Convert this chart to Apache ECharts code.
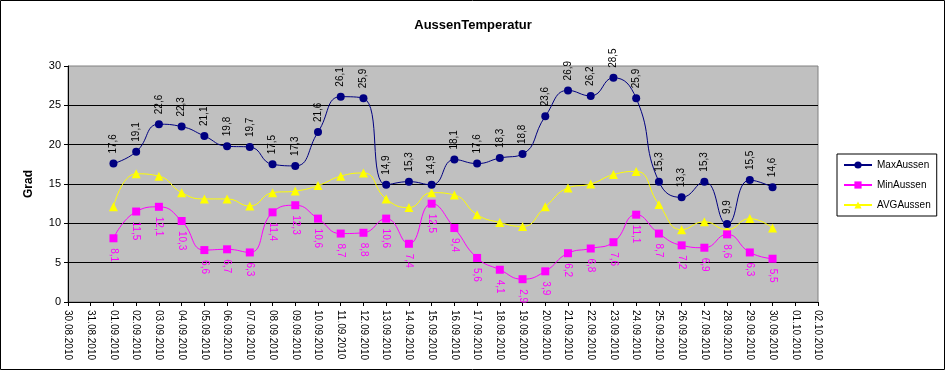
<!DOCTYPE html>
<html><head><meta charset="utf-8">
<script src="https://cdn.jsdelivr.net/npm/echarts@6/dist/echarts.min.js"></script>
<style>html,body{margin:0;padding:0;background:#fff}#c{width:946px;height:371px}</style>
</head><body><div id="c"></div>
<script>
const categories = ['30.08.2010','31.08.2010','01.09.2010','02.09.2010','03.09.2010','04.09.2010','05.09.2010','06.09.2010','07.09.2010','08.09.2010','09.09.2010','10.09.2010','11.09.2010','12.09.2010','13.09.2010','14.09.2010','15.09.2010','16.09.2010','17.09.2010','18.09.2010','19.09.2010','20.09.2010','21.09.2010','22.09.2010','23.09.2010','24.09.2010','25.09.2010','26.09.2010','27.09.2010','28.09.2010','29.09.2010','30.09.2010','01.10.2010','02.10.2010'];
const maxAussen = [null,null,17.6,19.1,22.6,22.3,21.1,19.8,19.7,17.5,17.3,21.6,26.1,25.9,14.9,15.3,14.9,18.1,17.6,18.3,18.8,23.6,26.9,26.2,28.5,25.9,15.3,13.3,15.3,9.9,15.5,14.6,null,null];
const minAussen = [null,null,8.1,11.5,12.1,10.3,6.6,6.7,6.3,11.4,12.3,10.6,8.7,8.8,10.6,7.4,12.5,9.4,5.6,4.1,2.9,3.9,6.2,6.8,7.6,11.1,8.7,7.2,6.9,8.6,6.3,5.5,null,null];
const avgAussen = [null,null,12.1,16.3,16.0,13.9,13.1,13.1,12.2,13.9,14.1,14.8,16.0,16.4,13.1,12.0,13.9,13.6,11.1,10.1,9.6,12.1,14.5,15.0,16.2,16.6,12.4,9.2,10.2,9.2,10.6,9.4,null,null];
const yTicks = [0,5,10,15,20,25,30];

const fmt = p => p.value == null ? '' : Number(p.value).toFixed(1).replace('.', ',');
const FONT = 'Liberation Sans, Arial, sans-serif';
const chart = echarts.init(document.getElementById('c'), null, {renderer:'canvas'});
chart.setOption({
  animation:false,
  backgroundColor:'#fff',
  textStyle:{fontFamily:FONT},
  title:{text:'AussenTemperatur', left:'center', top:14,
    textStyle:{fontFamily:FONT, fontSize:13, fontWeight:'bold', color:'#000'}},
  grid:{left:68, right:128, top:66, bottom:69, show:true, backgroundColor:'#C0C0C0', borderColor:'#808080', borderWidth:1},
  legend:{orient:'vertical', left:837, top:154, width:100, padding:[6,6,6,6],
    borderColor:'#000', borderWidth:1, itemGap:10, itemWidth:28, itemHeight:9,
    textStyle:{fontFamily:FONT, fontSize:10, color:'#000'},
    data:['MaxAussen','MinAussen','AVGAussen']},
  xAxis:{type:'category', data:categories, boundaryGap:false,
    axisLine:{lineStyle:{color:'#000'}},
    axisTick:{show:true, length:4, lineStyle:{color:'#000'}, interval:0},
    axisLabel:{rotate:-90, interval:0, fontSize:10, color:'#000', fontFamily:FONT, margin:8},
    splitLine:{show:false}},
  yAxis:{type:'value', min:yTicks[0], max:yTicks[yTicks.length-1], interval:5,
    name:'Grad', nameLocation:'middle', nameGap:33, nameRotate:90,
    nameTextStyle:{fontFamily:FONT, fontSize:12, fontWeight:'bold', color:'#000'},
    axisLine:{show:true, lineStyle:{color:'#000'}},
    axisTick:{show:true, length:4, lineStyle:{color:'#000'}},
    axisLabel:{fontSize:11, color:'#000', fontFamily:FONT, margin:7},
    splitLine:{show:true, showMinLine:false, showMaxLine:false, lineStyle:{color:'#000', width:1}}},
  graphic:[{type:'rect', shape:{x:0.5,y:0.5,width:944,height:369}, style:{fill:'none', stroke:'#000', lineWidth:1}, z:100, silent:true}],
  series:[
    {name:'MaxAussen', type:'line', data:maxAussen, smooth:0.5, connectNulls:false,
      symbol:'circle', symbolSize:8, itemStyle:{color:'#000080'}, lineStyle:{color:'#000080', width:1},
      label:{show:true, position:'top', rotate:90, align:'left', verticalAlign:'middle', distance:6,
        fontSize:10, color:'#000', fontFamily:FONT, formatter:fmt}, z:4},
    {name:'MinAussen', type:'line', data:minAussen, smooth:0.5,
      symbol:'rect', symbolSize:8, itemStyle:{color:'#FF00FF'}, lineStyle:{color:'#FF00FF', width:1},
      label:{show:true, position:'bottom', rotate:-90, align:'left', verticalAlign:'middle', distance:6,
        fontSize:10, color:'#FF00FF', fontFamily:FONT, formatter:fmt}, z:3},
    {name:'AVGAussen', type:'line', data:avgAussen, smooth:0.5,
      symbol:'triangle', symbolSize:9, itemStyle:{color:'#FFFF00'}, lineStyle:{color:'#FFFF00', width:1}, z:2}
  ]
});
</script></body></html>
